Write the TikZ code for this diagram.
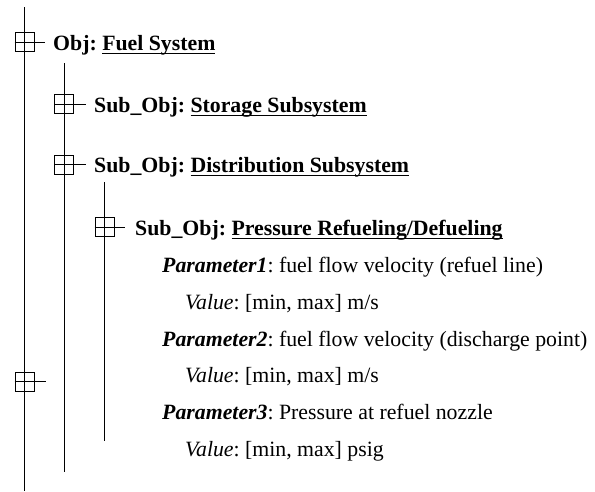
\documentclass[tikz,border=0pt]{standalone}
\usepackage{fontspec}
\setmainfont{Liberation Serif}
\usetikzlibrary{positioning}

% underline that sits just under the baseline
\newcommand{\ulbar}[1]{\setbox0\hbox{#1}\rlap{\rule[-4pt]{\wd0}{1.5pt}}\box0}

\begin{document}
\frenchspacing
\begin{tikzpicture}[x=1pt, y=-1pt,
  treeline/.style={line width=0.8pt},
  togglebox/.style={draw, line width=0.8pt, minimum size=19pt, inner sep=0pt},
  itemtext/.style={anchor=base west, inner sep=0pt,
                   font=\fontsize{21.8}{26}\selectfont}]
  \useasboundingbox (0,0) rectangle (595,491);

  % Tree trunks
  \coordinate (top1) at (24.5,7);   \coordinate (bot1) at (24.5,491);
  \coordinate (top2) at (64,63);    \coordinate (bot2) at (64,472);
  \coordinate (top3) at (104.5,182); \coordinate (bot3) at (104.5,441);
  \draw[treeline] (top1) -- (bot1);
  \draw[treeline] (top2) -- (bot2);
  \draw[treeline] (top3) -- (bot3);

  % Obj: Fuel System
  \node[togglebox] (objbox) at (24.5,42) {};
  \coordinate[right=11pt of objbox.east] (objstub);
  \draw[treeline] (objbox.west) -- (objstub);
  \node[itemtext] (obj) at (53,50) {\textbf{Obj: \ulbar{Fuel System}}};

  % Sub_Obj: Storage Subsystem
  \node[togglebox] (storebox) at (64,104) {};
  \coordinate[right=12pt of storebox.east] (storestub);
  \draw[treeline] (storebox.west) -- (storestub);
  \node[itemtext] (store) at (94,112) {\textbf{Sub\_Obj: \ulbar{Storage Subsystem}}};

  % Sub_Obj: Distribution Subsystem
  \node[togglebox] (distbox) at (64,164.5) {};
  \coordinate[right=12pt of distbox.east] (diststub);
  \draw[treeline] (distbox.west) -- (diststub);
  \node[itemtext] (dist) at (94,172) {\textbf{Sub\_Obj: \ulbar{Distribution Subsystem}}};

  % Sub_Obj: Pressure Refueling/Defueling
  \node[togglebox] (presbox) at (104.5,227) {};
  \coordinate[right=11pt of presbox.east] (presstub);
  \draw[treeline] (presbox.west) -- (presstub);
  \node[itemtext] (pres) at (135,235) {\textbf{Sub\_Obj: \ulbar{Pressure Refueling/Defueling}}};

  % Parameters and values
  \node[itemtext] (par1) at (162,272) {\textbf{\textit{Parameter1}}: fuel flow velocity (refuel line)};
  \node[itemtext] (val1) at (185,309) {\textit{Value}: [min, max] m/s};
  \node[itemtext] (par2) at (162,346) {\textbf{\textit{Parameter2}}: fuel flow velocity (discharge point)};
  \node[itemtext] (val2) at (185,382) {\textit{Value}: [min, max] m/s};
  \node[itemtext] (par3) at (162,419) {\textbf{\textit{Parameter3}}: Pressure at refuel nozzle};
  \node[itemtext] (val3) at (185,456) {\textit{Value}: [min, max] psig};

  % Lone box on the outer trunk
  \node[togglebox] (lonebox) at (24.5,381.5) {};
  \coordinate[right=12pt of lonebox.east] (lonestub);
  \draw[treeline] (lonebox.west) -- (lonestub);
\end{tikzpicture}
\end{document}
